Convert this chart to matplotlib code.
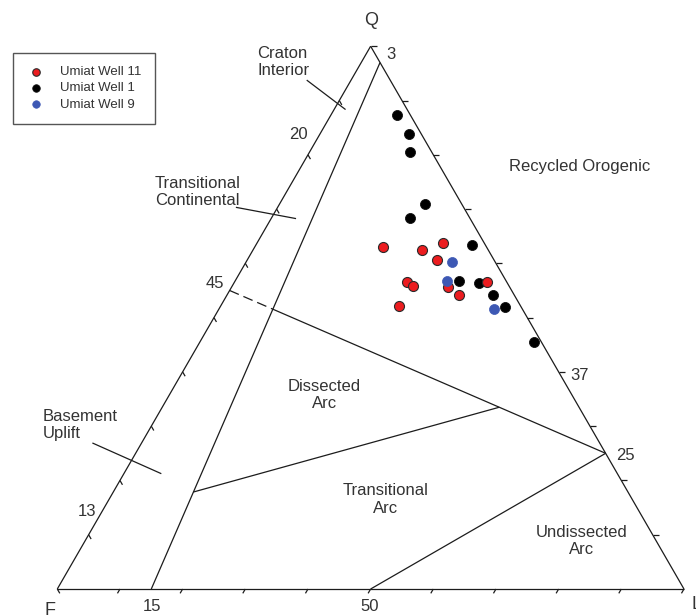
import numpy as np
import matplotlib.pyplot as plt

plt.rcParams['font.family'] = ['Liberation Sans', 'DejaVu Sans']

# modal composition in percent: Q = quartz, F = feldspar, L = lithics
w11_q = [63.1, 62.5, 63.8, 60.7, 56.5, 55.8, 55.6, 54.1, 56.6, 52.1]
w11_f = [16.4, 10.6, 6.6, 9.1, 16.0, 15.4, 9.9, 8.8, 3.2, 19.5]
w11_l = [20.5, 26.9, 29.6, 30.2, 27.5, 28.8, 34.5, 37.1, 40.2, 28.4]

w1_q = [87.4, 83.9, 80.6, 71.0, 68.3, 63.3, 56.7, 56.4, 54.2, 52.0, 45.6]
w1_f = [2.1, 2.0, 3.4, 5.8, 9.5, 2.2, 7.6, 4.5, 3.4, 2.5, 1.1]
w1_l = [10.5, 14.1, 16.0, 23.2, 22.2, 34.5, 35.7, 39.1, 42.4, 45.5, 53.3]

w9_q = [60.3, 56.7, 51.5]
w9_f = [6.9, 9.4, 4.6]
w9_l = [32.8, 33.9, 43.9]

# provenance field boundaries (Dickinson), end points as (Q, F, L)
craton_line = [(97, 0, 3), (0, 85, 15)]
recycled_line = [(55, 45, 0), (25, 0, 75)]
dissected_line = [(13, 87, 0), (37, 0, 63)]
undissected_line = [(0, 50, 50), (25, 0, 75)]

INK = '#1c1c1c'
TXT = '#333333'


def tern(q, f, l):
    q = np.asarray(q, float)
    f = np.asarray(f, float)
    l = np.asarray(l, float)
    s = q + f + l
    return 100 * (l + q / 2) / s, 100 * q * np.sqrt(3) / 2 / s


def pt(qfl):
    x, y = tern(*qfl)
    return np.array([float(x), float(y)])


def cross(a1, a2, b1, b2):
    # intersection of line a1-a2 with line b1-b2
    da, db = a2 - a1, b2 - b1
    t = np.cross(b1 - a1, db) / np.cross(da, db)
    return a1 + t * da


def seg(ax, p, q, **kw):
    ax.plot([p[0], q[0]], [p[1], q[1]], color=INK, lw=0.9, solid_capstyle='butt', **kw)


fig = plt.figure(figsize=(6.96, 6.16), dpi=100)
ax = fig.add_axes([0, 0, 1, 1])
ax.set_xlim(-9.143, 101.92)
ax.set_ylim(-4.308, 93.98)
ax.axis('off')

# outer triangle
Qv, Fv, Lv = pt((100, 0, 0)), pt((0, 100, 0)), pt((0, 0, 100))
seg(ax, Fv, Lv)
seg(ax, Lv, Qv)
seg(ax, Qv, Fv)

# tick marks every 10 %
for v in range(10, 101, 10):
    b = pt((v, 0, 100 - v))
    seg(ax, b, b + np.array([0.95, 0]))
    b = pt((0, 100 - v, v))
    seg(ax, b, b + 0.8 * np.array([-0.5, -0.866]))
    b = pt((100 - v, v, 0))
    seg(ax, b, b + 0.8 * np.array([0.5, -0.866]))

# field boundaries
c1, c2 = pt(craton_line[0]), pt(craton_line[1])
r1, r2 = pt(recycled_line[0]), pt(recycled_line[1])
d1, d2 = pt(dissected_line[0]), pt(dissected_line[1])
u1, u2 = pt(undissected_line[0]), pt(undissected_line[1])

seg(ax, c1, c2)
rc = cross(r1, r2, c1, c2)
seg(ax, r1, rc, linestyle=(0, (8, 4)))
seg(ax, rc, r2)
seg(ax, cross(d1, d2, c1, c2), cross(d1, d2, r1, r2))
seg(ax, u1, u2)

# leader lines to the continental block labels
seg(ax, np.array([39.8, 81.2]), np.array([46.0, 76.5]))
seg(ax, np.array([28.5, 60.9]), np.array([38.1, 59.1]))
seg(ax, np.array([5.6, 23.3]), np.array([16.6, 18.4]))

# data points
x, y = tern(w1_q, w1_f, w1_l)
h1 = ax.scatter(x, y, s=52, c='black', edgecolors='#111111', linewidths=0.6, zorder=3)
x, y = tern(w11_q, w11_f, w11_l)
h11 = ax.scatter(x, y, s=52, c='#ec1c1f', edgecolors='#2a2a2a', linewidths=0.8, zorder=4)
x, y = tern(w9_q, w9_f, w9_l)
h9 = ax.scatter(x, y, s=52, c='#3d58b4', edgecolors='#3d58b4', linewidths=0.5, zorder=5)

# apex and boundary labels
def num(text, p, dx, dy, size=12):
    ax.annotate(text, xy=p, xytext=(dx, dy), textcoords='offset pixels',
                ha='center', va='center', fontsize=size, color=TXT)

num('Q', Qv, 0, 26, 13)
num('F', Fv, -7, -21, 13)
num('L', Lv, 13, -15, 13)
num('3', c1, 11, 8)
num('20', pt((80, 20, 0)), -10, 20)
num('45', r1, -15, 7)
num('13', d1, -11, 7)
num('15', c2, 1, -17)
num('50', u1, -1, -17)
num('37', d2, 12, 13)
num('25', r2, 20, -2)

# field names
kw = dict(fontsize=12, color=TXT, va='center', linespacing=1.2)
ax.text(31.9, 84.1, 'Craton\nInterior', ha='left', **kw)
ax.text(15.6, 63.3, 'Transitional\nContinental', ha='left', **kw)
ax.text(-2.3, 26.2, 'Basement\nUplift', ha='left', **kw)
ax.text(83.3, 67.4, 'Recycled Orogenic', ha='center', **kw)
ax.text(42.6, 31.0, 'Dissected\nArc', ha='center', multialignment='center', **kw)
ax.text(52.4, 14.3, 'Transitional\nArc', ha='center', multialignment='center', **kw)
ax.text(83.6, 7.7, 'Undissected\nArc', ha='center', multialignment='center', **kw)

leg = ax.legend([h11, h1, h9], ['Umiat Well 11', 'Umiat Well 1', 'Umiat Well 9'],
                loc='upper left', bbox_to_anchor=(12.7 / 696, 1 - 52.7 / 616),
                bbox_transform=fig.transFigure, borderaxespad=0,
                fontsize=9.5, markerscale=0.75, borderpad=1.0, labelspacing=0.3,
                handlelength=1.6, handletextpad=1.0, fancybox=False,
                framealpha=1, edgecolor='#555555')
leg.get_frame().set_linewidth(1.0)
for t in leg.get_texts():
    t.set_color(TXT)

fig.savefig('out.png', dpi=100)
